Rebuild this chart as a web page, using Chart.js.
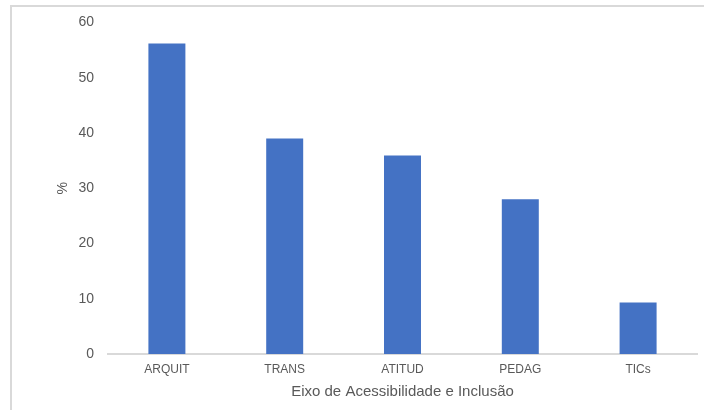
<!DOCTYPE html>
<html>
<head>
<meta charset="utf-8">
<script src="https://cdn.jsdelivr.net/npm/chart.js@4"></script>
<style>
html,body{margin:0;padding:0;background:#fff;}
canvas{display:block;}
</style>
</head>
<body>
<canvas id="c" width="704" height="410"></canvas>
<script>
const categories = ["ARQUIT", "TRANS", "ATITUD", "PEDAG", "TICs"];
const values = [56.2, 39.0, 35.9, 28.0, 9.3];
const yTitle = "%";
const xTitle = "Eixo de Acessibilidade e Inclusão";

const frame = {
  id: 'frame',
  beforeDraw(chart) {
    const ctx = chart.ctx;
    ctx.save();
    ctx.fillStyle = '#fff';
    ctx.fillRect(0, 0, chart.width, chart.height);
    ctx.strokeStyle = '#d9d9d9';
    ctx.lineWidth = 2;
    ctx.beginPath();
    ctx.moveTo(11, chart.height);
    ctx.lineTo(11, 6);
    ctx.lineTo(chart.width, 6);
    ctx.stroke();
    ctx.restore();
  }
};

new Chart(document.getElementById('c'), {
  type: 'bar',
  data: {
    labels: categories,
    datasets: [{
      data: values,
      backgroundColor: '#4472C4',
      barPercentage: 0.314,
      categoryPercentage: 1.0
    }]
  },
  options: {
    responsive: false,
    animation: false,
    layout: { padding: { left: 55, right: 7, top: 20, bottom: 0 } },
    plugins: { legend: { display: false }, tooltip: { enabled: false } },
    scales: {
      y: {
        min: 0, max: 60,
        ticks: { stepSize: 10, color: '#595959', font: { family: 'Liberation Sans', size: 14 }, padding: 14 },
        grid: { display: false, drawTicks: false },
        border: { display: false },
        title: { display: true, text: yTitle, color: '#595959', font: { family: 'Liberation Sans', size: 14 }, padding: { top: 0, bottom: 0 } },
        afterFit(s) { s.width = 53; }
      },
      x: {
        ticks: { color: '#595959', font: { family: 'Liberation Sans', size: 12 }, padding: 8 },
        grid: { display: false, drawTicks: false },
        border: { display: true, color: '#d9d9d9', width: 2 },
        title: { display: true, text: xTitle, color: '#595959', font: { family: 'Liberation Sans', size: 15 }, padding: { top: 6, bottom: 9 } },
        afterFit(s) { s.height = 56; }
      }
    }
  },
  plugins: [frame]
});
</script>
</body>
</html>
